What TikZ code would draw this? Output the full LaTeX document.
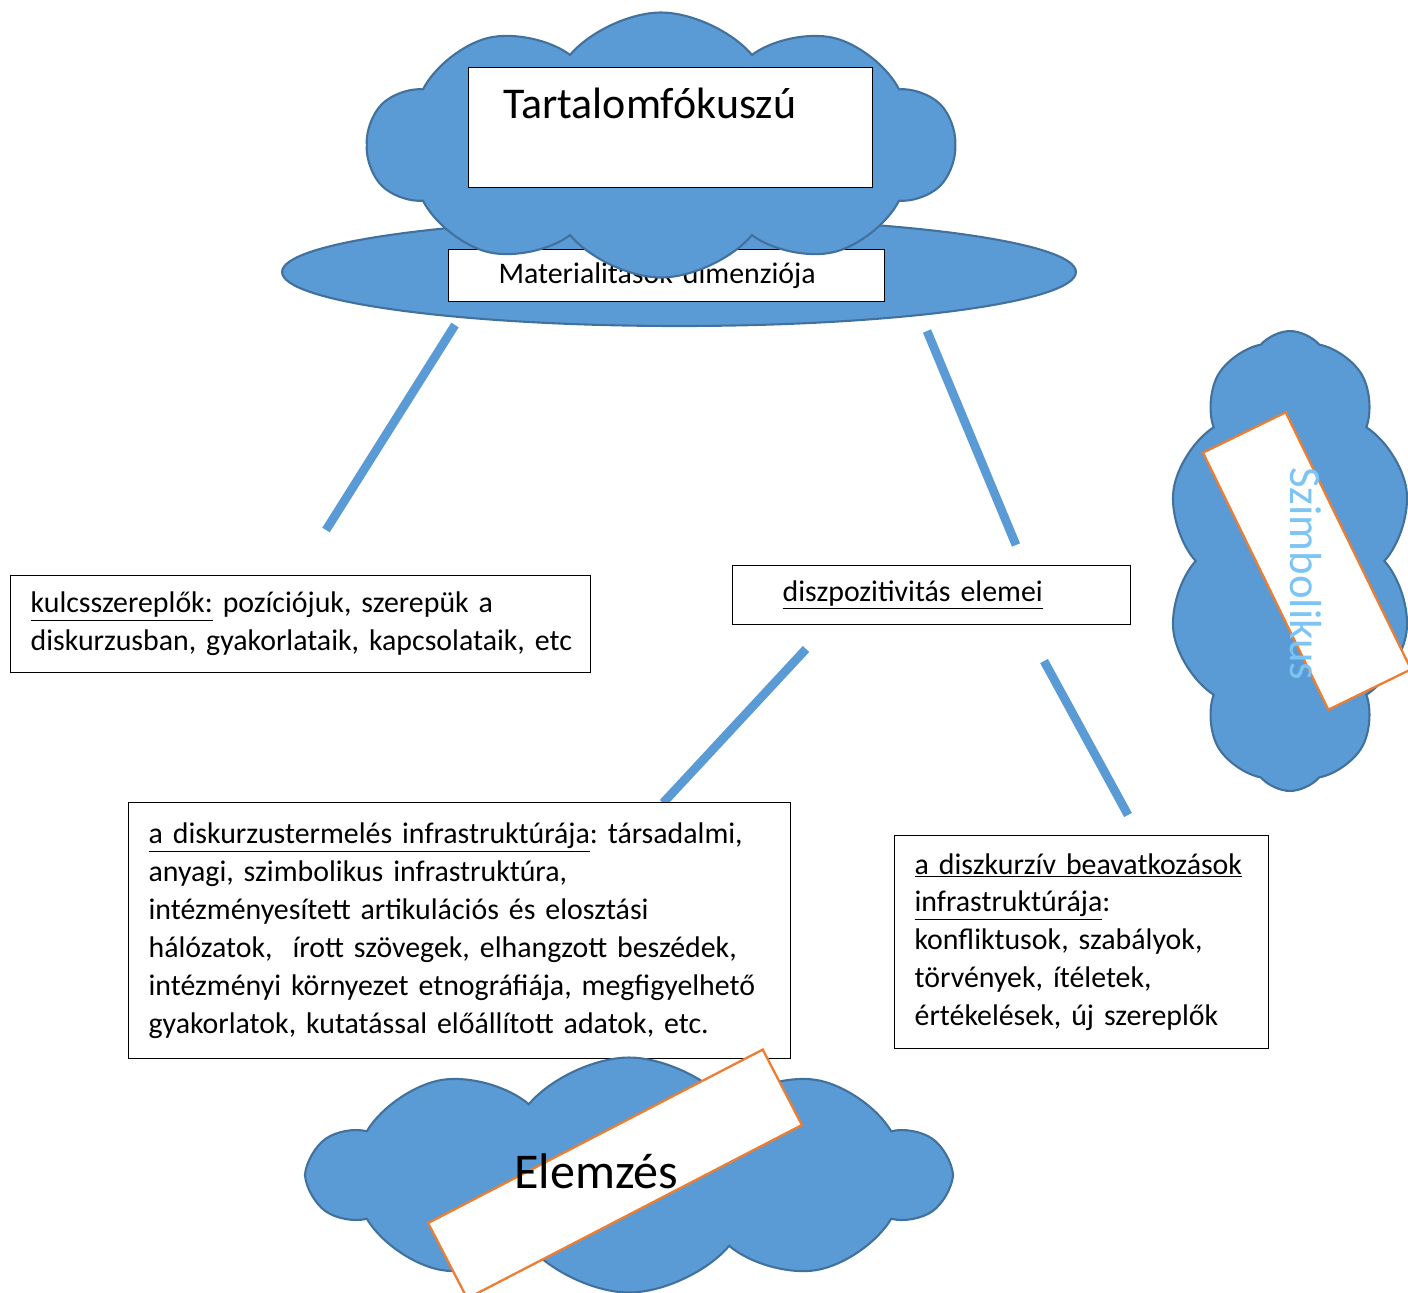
\documentclass[tikz,border=0pt]{standalone}
\usepackage{fontspec}
\setmainfont{Carlito}
\usetikzlibrary{shapes.symbols}
\definecolor{cloudblue}{HTML}{5B9BD5}
\definecolor{cloudedge}{HTML}{41719C}
\definecolor{tagorange}{HTML}{ED7D31}
\definecolor{lightletters}{HTML}{7CC4F4}
\frenchspacing
\tikzset{
  blob/.style={fill=cloudblue, draw=cloudedge, line width=1.2pt},
  puff/.style={blob, cloud, cloud puffs=10, cloud puff arc=100, cloud ignores aspect, inner sep=0pt},
  textbox/.style={draw=black, fill=white, line width=0.7pt, align=left, anchor=north west, inner xsep=0.4cm, inner ysep=0pt},
  tag/.style={draw=tagorange, fill=white, line width=1.3pt, inner sep=0pt},
  spoke/.style={draw=cloudblue, line width=5pt},
  body/.style={font=\fontsize{17}{21.6}\selectfont},
}
\begin{document}
\begin{tikzpicture}[x=0.02cm, y=-0.02cm]
  \path[use as bounding box, clip] (0,0) rectangle (1408,1292);
  % base ellipse with its label
  \draw[blob] (679,272) ellipse [x radius=7.94cm, y radius=1.08cm];
  \node[textbox, body, text width=7.92cm, minimum height=1.04cm] (matdim) at (448,249) {\hspace*{0.6cm}Materialitások dimenziója};
  % cloud on top
  \node[puff, minimum width=11.74cm, minimum height=5.3cm] (topcloud) at (661,145) {};
  \node[textbox, minimum width=8.08cm, minimum height=2.4cm] (focus) at (468,67) {};
  \node[anchor=base west, font=\fontsize{25}{30}\selectfont, inner sep=0pt] (focustext) at (503,118) {Tartalomfókuszú};
  % spokes
  \coordinate (s1a) at (455,325);
  \coordinate (s1b) at (326,530);
  \coordinate (s2a) at (927,331);
  \coordinate (s2b) at (1016,545);
  \coordinate (s3a) at (806,649);
  \coordinate (s3b) at (663,803);
  \coordinate (s4a) at (1044,661);
  \coordinate (s4b) at (1128,815);
  \draw[spoke] (s1a) -- (s1b);
  \draw[spoke] (s2a) -- (s2b);
  \draw[spoke] (s3a) -- (s3b);
  \draw[spoke] (s4a) -- (s4b);
  % text boxes
  \node[textbox, body, inner xsep=0.3cm, text width=11cm, minimum height=1.94cm] (actors) at (10,575)
    {\hspace*{0.1cm}\underline{kulcsszereplők:} pozíciójuk, szerepük a\\ \hspace*{0.1cm}diskurzusban, gyakorlataik, kapcsolataik, etc};
  \node[textbox, body, text width=7.16cm, minimum height=1.18cm] (dispo) at (732,565)
    {\hspace*{0.6cm}\underline{diszpozitivitás elemei}};
  \node[textbox, body, text width=12.44cm, minimum height=5.12cm] (infra) at (128,802)
    {\underline{a diskurzustermelés infrastruktúrája}: társadalmi,\\
     anyagi, szimbolikus infrastruktúra,\\
     intézményesített artikulációs és elosztási\\
     hálózatok,\ \ írott szövegek, elhangzott beszédek,\\
     intézményi környezet etnográfiája, megfigyelhető\\
     gyakorlatok, kutatással előállított adatok, etc.};
  \node[textbox, body, text width=6.68cm, minimum height=4.26cm] (interv) at (894,835)
    {\underline{a diszkurzív beavatkozások}\\
     \underline{infrastruktúrája}:\\
     konfliktusok, szabályok,\\
     törvények, ítéletek,\\
     értékelések, új szereplők};
  % right cloud
  \node[puff, minimum width=4.9cm, minimum height=9.2cm] (symcloud) at (1290,561) {};
  \node[tag, minimum width=5.72cm, minimum height=1.84cm, rotate=-64] (symtag) at (1307,561) {};
  \node[anchor=base west, rotate=-90, inner sep=0pt, text=lightletters, font=\fontsize{25.5}{30}\selectfont] (symtext) at (1290,467) {Szimbolikus};
  % bottom cloud
  \node[puff, minimum width=12.76cm, minimum height=4.7cm] (anacloud) at (629,1175) {};
  \node[tag, minimum width=7.54cm, minimum height=1.7cm, rotate=27.4] (anatag) at (615,1174) {};
  \node[anchor=base west, inner sep=0pt, font=\fontsize{28.5}{32}\selectfont] (anatext) at (514,1188) {Elemzés};
\end{tikzpicture}
\end{document}
